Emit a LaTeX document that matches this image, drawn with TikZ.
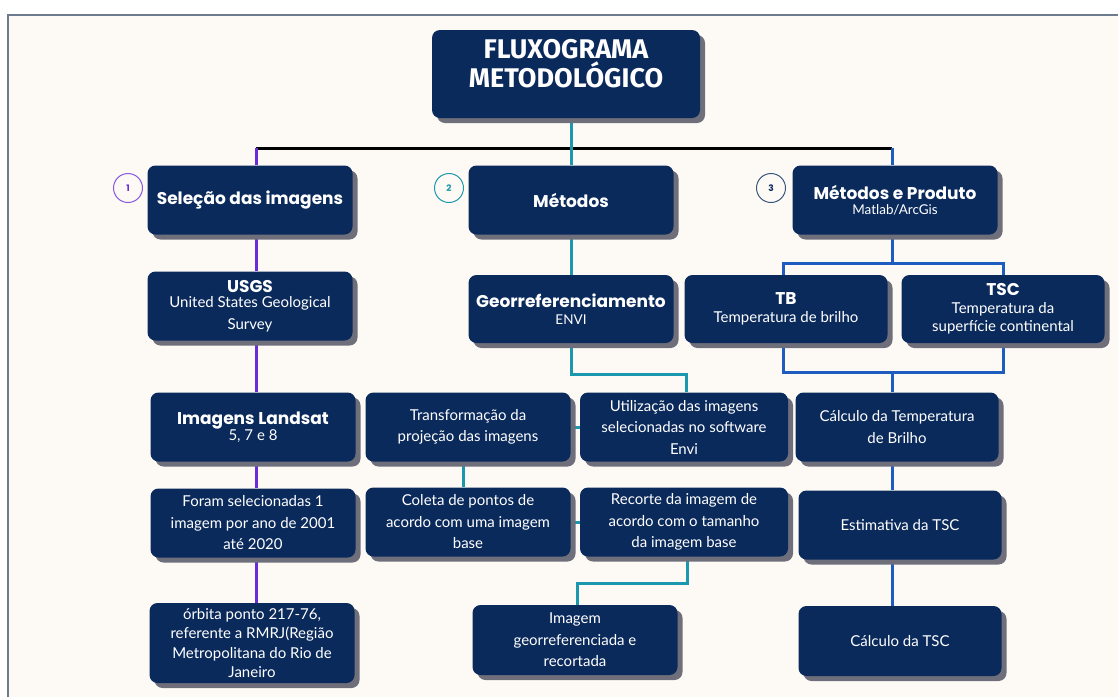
\documentclass[tikz,border=0pt]{standalone}
\usepackage{fontspec}
\setmainfont{Lato}
\newfontfamily\hdfont{Poppins}
\newfontfamily\ttlfont{Fira Sans}
\usetikzlibrary{shadows}
\definecolor{navy}{HTML}{0B2A5C}
\definecolor{shad}{HTML}{6E6F7B}
\definecolor{bgc}{HTML}{FDFAF5}
\definecolor{framec}{HTML}{6C7B8E}
\definecolor{purp}{HTML}{6C2BD9}
\definecolor{tealc}{HTML}{1C98AE}
\definecolor{blu}{HTML}{1E5CC0}
\newcommand\hdx{\hdfont\bfseries\fontsize{17}{19}\selectfont}
\newcommand\smx{\fontsize{13.5}{15}\selectfont}
\pgfdeclarelayer{back}
\pgfdeclarelayer{lines}
\pgfsetlayers{back,lines,main}
\begin{document}
\begin{tikzpicture}[x=1pt,y=-1pt,
  box/.style={fill=navy, rounded corners=8pt, text=white, align=center, inner sep=2pt,
    font=\fontsize{15}{21.5}\selectfont,
    minimum width=205pt, minimum height=68pt,
    drop shadow={shadow xshift=5pt, shadow yshift=-5pt, fill=shad, opacity=1}},
  circ/.style={circle, draw, line width=1pt, minimum size=29pt, inner sep=0pt, fill=bgc,
    font=\hdfont\bfseries\fontsize{9}{10}\selectfont},
  pl/.style={purp, line width=3pt},
  tl/.style={tealc, line width=3pt},
  bl/.style={blu, line width=3pt}]
\useasboundingbox (0,0) rectangle (1118,697);
\begin{pgfonlayer}{back}
\fill[white] (0,0) rectangle (1118,697);
\fill[bgc] (8,15) rectangle (1118,697);
\draw[framec, line width=2pt] (8,697) -- (8,15) -- (1118,15);
\end{pgfonlayer}

% title
\node[box, minimum width=268pt, minimum height=88pt, font=\ttlfont\bfseries\fontsize{27}{29}\selectfont] (title) at (566,74) {FLUXOGRAMA\\METODOLÓGICO\\[-7pt]\mbox{}};

% column 1
\node[box, minimum width=205pt, minimum height=69pt] (sel) at (250,200) {\hdx Seleção das imagens};
\node[box, minimum width=205pt, minimum height=69pt] (usgs) at (250,306) {{\hdx USGS}\\[-6pt]United States Geological\\Survey};
\node[box, minimum width=205pt, minimum height=69pt] (land) at (253,427) {{\hdx Imagens Landsat}\\[-5pt]5, 7 e 8};
\node[box, minimum width=205pt, minimum height=69pt] (foram) at (253,523) {Foram selecionadas 1\\imagem por ano de 2001\\até 2020};
\node[box, minimum width=205pt, minimum height=80pt, font=\fontsize{15}{19.5}\selectfont] (orb) at (252,643) {órbita ponto 217-76,\\referente a RMRJ(Região\\Metropolitana do Rio de\\Janeiro};

% column 2
\node[box, minimum width=205pt, minimum height=69pt] (met) at (571,200) {\hdx Métodos};
\node[box, minimum width=205pt, minimum height=68pt] (geo) at (571,309) {{\hdx Georreferenciamento}\\[-5pt]{\smx ENVI}};
\node[box, minimum width=205pt, minimum height=69pt] (trans) at (468,427) {Transformação da\\projeção das imagens};
\node[box, minimum width=208pt, minimum height=69pt] (util) at (684,427) {Utilização das imagens\\selecionadas no software\\Envi};
\node[box, minimum width=205pt, minimum height=69pt] (col) at (468,522) {Coleta de pontos de\\acordo com uma imagem\\base};
\node[box, minimum width=208pt, minimum height=69pt] (rec) at (684,522) {Recorte da imagem de\\acordo com o tamanho\\da imagem base};
\node[box, minimum width=205pt, minimum height=70pt] (img) at (575,640) {Imagem\\georreferenciada e\\recortada};

% column 3
\node[box, minimum width=205pt, minimum height=69pt] (mp) at (895,200) {{\hdx Métodos e Produto}\\[-6pt]{\smx Matlab/ArcGis}};
\node[box, minimum width=203pt, minimum height=68pt] (tb) at (786,309) {{\hdx TB}\\[-3pt]Temperatura de brilho};
\node[box, minimum width=203pt, minimum height=68pt] (tsc) at (1003,309) {{\hdx TSC}\\[-4pt]Temperatura da\\[-3pt]superfície continental};
\node[box, minimum width=203pt, minimum height=69pt] (calc) at (897,427) {Cálculo da Temperatura\\de Brilho};
\node[box, minimum width=203pt, minimum height=69pt] (est) at (900,525) {Estimativa da TSC};
\node[box, minimum width=203pt, minimum height=70pt] (ctsc) at (900,641) {Cálculo da TSC};

% numbered circles
\node[circ, draw=purp!80, text=purp] (c1) at (128,188) {1};
\node[circ, draw=tealc, text=tealc] (c2) at (449,188) {2};
\node[circ, draw=navy!80, text=navy] (c3) at (771,188) {3};

% connector coordinates
\coordinate (jl) at (256,148);
\coordinate (jr) at (892,148);
\coordinate (g1) at (686,374);
\coordinate (tc) at (463,0);
\coordinate (r1) at (687,583);
\coordinate (r2) at (577,583);
\coordinate (sl) at (783,263);
\coordinate (sm) at (892,263);
\coordinate (sr) at (1003,263);
\coordinate (bl1) at (783,372);
\coordinate (bm) at (892,372);
\coordinate (br) at (1003,372);

\begin{pgfonlayer}{lines}
\draw[black, line width=3pt] (jl) -- (jr);
\draw[tl] (title.south -| met.north) -- (met.north);
% column 1
\draw[pl] (jl) -- (jl |- sel.north);
\draw[pl] (jl |- sel.south) -- (jl |- usgs.north);
\draw[pl] (jl |- usgs.south) -- (jl |- land.north);
\draw[pl] (jl |- land.south) -- (jl |- foram.north);
\draw[pl] (jl |- foram.south) -- (jl |- orb.north);
% column 2
\draw[tl] (met.south) -- (geo.north);
\draw[tl] (geo.south) |- (g1) -- (g1 |- util.north);
\draw[tl] (trans.east) -- (util.west);
\draw[tl] (tc |- trans.south) -- (tc |- col.north);
\draw[tl] (col.east) -- (rec.west);
\draw[tl] (r1 |- rec.south) -- (r1) -- (r2) -- (r2 |- img.north);
% column 3
\draw[bl] (jr) -- (jr |- mp.north);
\draw[bl] (sm |- mp.south) -- (sm);
\draw[bl] (sl |- tb.north) -- (sl) -- (sr) -- (sr |- tsc.north);
\draw[bl] (bl1 |- tb.south) -- (bl1) -- (br) -- (br |- tsc.south);
\draw[bl] (bm) -- (bm |- calc.north);
\draw[bl] (bm |- calc.south) -- (bm |- est.north);
\draw[bl] (bm |- est.south) -- (bm |- ctsc.north);
\end{pgfonlayer}
\end{tikzpicture}
\end{document}
